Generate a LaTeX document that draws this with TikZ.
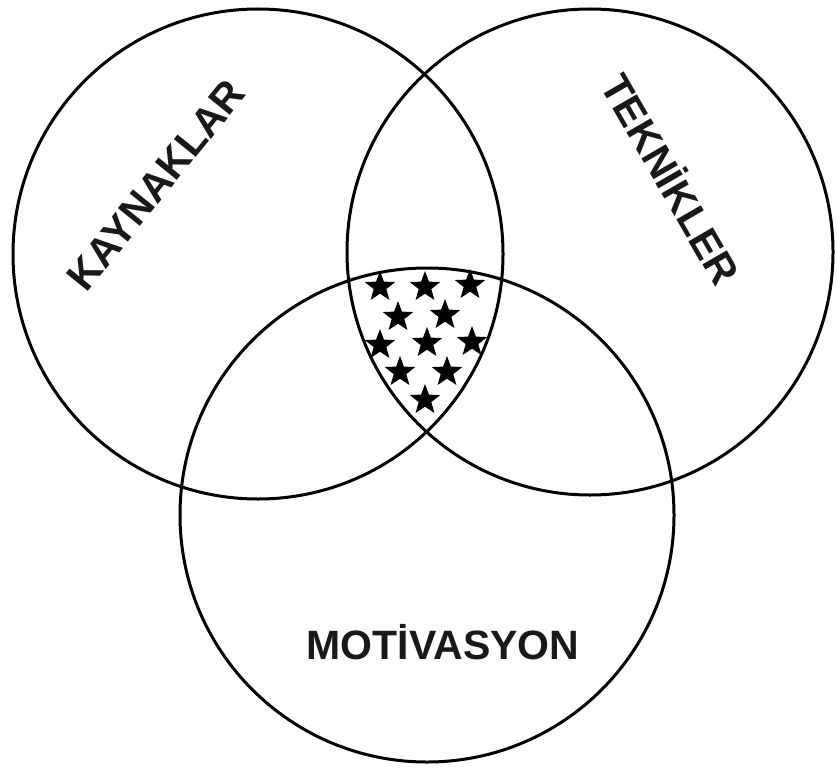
\documentclass[tikz,border=0pt]{standalone}
\usepackage{fontspec}
\setmainfont{Liberation Sans}
\usetikzlibrary{shapes.geometric}
\begin{document}
\begin{tikzpicture}[x=1pt,y=-1pt,
  ring/.style={circle, draw=black, line width=3pt, inner sep=0pt},
  lbl/.style={font=\fontsize{41}{41}\selectfont\bfseries, inner sep=0pt, text=black!90},
  starmark/.style={star, star points=5, star point ratio=2.4, fill=black, minimum size=32pt, inner sep=0pt}]
\useasboundingbox (0,0) rectangle (837,773);
\node[ring, minimum size=490pt] (kaynak) at (258,254) {};
\node[ring, minimum size=486pt] (teknik) at (590,252) {};
\node[ring, minimum size=494pt] (motiv) at (427,515) {};
\node[lbl, rotate=51] (tk) at (156,185) {KAYNAKLAR};
\node[lbl, rotate=-60] (tt) at (673,178) {TEKNİKLER};
\node[lbl] (tm) at (443,642) {MOTİVASYON};
\foreach \n/\px/\py in {s1/380/287, s2/425/287, s3/470/285, s4/398/317, s5/445/315, s6/380/345, s7/427/343, s8/472/342, s9/400/372, s10/447/372, s11/425/400}
  \node[starmark] (\n) at (\px,\py) {};
\end{tikzpicture}
\end{document}
